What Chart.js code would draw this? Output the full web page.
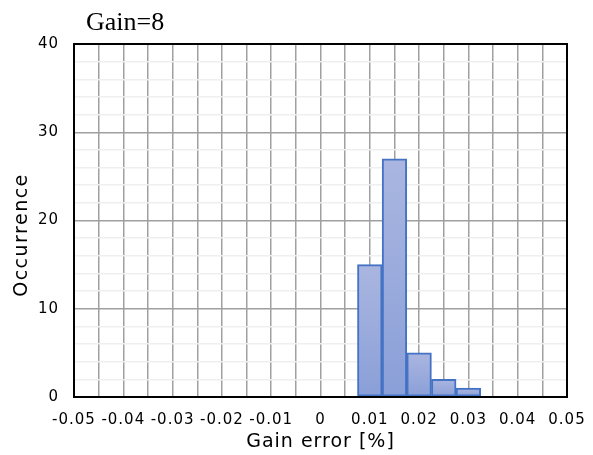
<!DOCTYPE html>
<html>
<head>
<meta charset="utf-8">
<script src="https://cdn.jsdelivr.net/npm/chart.js@4.4.0/dist/chart.umd.min.js"></script>
<style>
html, body { margin: 0; padding: 0; background: #fff; }
</style>
</head>
<body>
<canvas id="myChart" width="593" height="455"></canvas>
<script>
// histogram bins (centre of each 0.005 wide bin) and counts
var binCenters = [0.01, 0.015, 0.02, 0.025, 0.03];
var occurrences = [15, 27, 5, 2, 1];
var xTickLabels = ["-0.05", "-0.04", "-0.03", "-0.02", "-0.01", "0", "0.01", "0.02", "0.03", "0.04", "0.05"];
var yTickLabels = ["0", "10", "20", "30", "40"];
var chartTitle = "Gain=8";
var yTitle = "Occurrence";

var tickFont = { family: "'DejaVu Sans', Verdana, sans-serif", size: 15 };
var titleFont = { family: "'DejaVu Sans', Verdana, sans-serif", size: 19 };

// per-bar vertical gradient, lighter on top
function barFill(context) {
    var chart = context.chart;
    var y = chart.scales.y;
    if (!y || context.parsed === undefined) return "#9aabdc";
    var top = y.getPixelForValue(context.parsed.y);
    var bottom = y.getPixelForValue(0);
    if (!isFinite(top) || top === bottom) return "#9aabdc";
    var g = chart.ctx.createLinearGradient(0, top, 0, bottom);
    g.addColorStop(0, "#aab6e0");
    g.addColorStop(1, "#8a9fd8");
    return g;
}

var decor = {
    id: "decor",
    beforeDraw: function (chart) {
        chart.ctx.letterSpacing = "1px";
    },
    afterDatasetsDraw: function (chart) {
        var ctx = chart.ctx;
        var a = chart.chartArea;
        ctx.save();
        ctx.strokeStyle = "#000";
        ctx.lineWidth = 2;
        ctx.strokeRect(a.left, a.top, a.right - a.left, a.bottom - a.top);
        ctx.restore();
    },
    afterDraw: function (chart) {
        var ctx = chart.ctx;
        ctx.save();
        ctx.letterSpacing = "0px";
        ctx.fillStyle = "#000";
        ctx.font = "26px 'Liberation Serif', 'Times New Roman', serif";
        ctx.textAlign = "left";
        ctx.textBaseline = "alphabetic";
        ctx.fillText(chartTitle, 86, 30);
        ctx.restore();

        // y axis title, sits a bit below the plot centre like the original
        ctx.save();
        ctx.letterSpacing = "1.5px";
        ctx.fillStyle = "#000";
        ctx.font = "19px 'DejaVu Sans', Verdana, sans-serif";
        ctx.textAlign = "center";
        ctx.textBaseline = "middle";
        ctx.translate(22, 235);
        ctx.rotate(-Math.PI / 2);
        ctx.fillText(yTitle, 0, 0);
        ctx.restore();
    }
};

var ctx = document.getElementById("myChart").getContext("2d");

var myChart = new Chart(ctx, {
    type: "bar",
    data: {
        datasets: [
            {
                label: yTitle,
                data: binCenters.map(function (c, i) { return { x: c, y: occurrences[i] }; }),
                backgroundColor: barFill,
                borderColor: "#4472c4",
                borderWidth: 2,
                borderSkipped: false,
                barPercentage: 1,
                categoryPercentage: 1,
            },
        ],
    },
    options: {
        responsive: false,
        animation: false,
        devicePixelRatio: 1,
        layout: { padding: { top: 44, right: 26, left: 0, bottom: 0 } },
        plugins: {
            legend: { display: false },
            tooltip: { enabled: false },
        },
        scales: {
            x: {
                type: "linear",
                min: -0.05,
                max: 0.05,
                offset: false,
                grid: { offset: false, color: "#a0a0a0", lineWidth: 1.5, drawTicks: false },
                border: { color: "#000", width: 2 },
                ticks: {
                    stepSize: 0.005,
                    autoSkip: false,
                    maxRotation: 0,
                    padding: 14,
                    color: "#000",
                    font: tickFont,
                    callback: function (value) {
                        var m = Math.round(value * 1000);
                        return m % 10 === 0 ? xTickLabels[m / 10 + 5] : "";
                    },
                },
                title: {
                    display: true,
                    text: "Gain error [%]",
                    color: "#000",
                    font: titleFont,
                    padding: { top: 0, bottom: 2 },
                },
                afterFit: function (scale) {
                    scale.height = 58;
                    // plot edges are set by layout padding, not label overhang
                    scale.paddingLeft = 0;
                    scale.paddingRight = 0;
                },
            },
            y: {
                min: 0,
                max: 40,
                grid: {
                    drawTicks: false,
                    lineWidth: 1.5,
                    color: function (c) {
                        return c.tick && c.tick.value % 10 === 0 ? "#a0a0a0" : "#efefef";
                    },
                },
                border: { color: "#000", width: 2 },
                ticks: {
                    stepSize: 2,
                    autoSkip: false,
                    padding: 15,
                    color: "#000",
                    font: tickFont,
                    callback: function (value) {
                        return value % 10 === 0 ? yTickLabels[value / 10] : "";
                    },
                },
                title: { display: false },
                afterFit: function (scale) { scale.width = 74; },
            },
        },
    },
    plugins: [decor],
});
</script>
</body>
</html>
